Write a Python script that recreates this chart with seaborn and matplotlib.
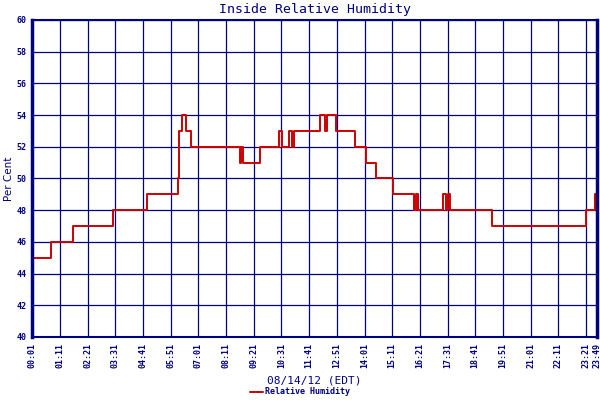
import numpy as np
import pandas as pd
import matplotlib
matplotlib.use("Agg")
import matplotlib.pyplot as plt
import seaborn as sns

# step change times (EDT) and the humidity value held from that time on
times = ["00:01", "00:48", "01:43", "03:25", "04:50", "06:09", "06:11", "06:13",
         "06:19", "06:30", "06:41", "08:46", "08:49", "08:53", "09:36", "10:24",
         "10:32", "10:49", "10:58", "11:02", "12:08", "12:21", "12:25", "12:50",
         "13:36", "14:04", "14:31", "15:14", "16:07", "16:12", "16:17", "17:20",
         "17:28", "17:33", "17:38", "19:23", "23:21", "23:45", "23:49"]
humidity = [45, 46, 47, 48, 49, 50, 52, 53,
            54, 53, 52, 51, 52, 51, 52, 53,
            52, 53, 52, 53, 54, 53, 54, 53,
            52, 51, 50, 49, 48, 49, 48, 49,
            48, 49, 48, 47, 48, 49, 49]

tick_labels = ["00:01", "01:11", "02:21", "03:31", "04:41", "05:51", "07:01",
               "08:11", "09:21", "10:31", "11:41", "12:51", "14:01", "15:11",
               "16:21", "17:31", "18:41", "19:51", "21:01", "22:11", "23:21",
               "23:49"]


def to_min(s):
    h, m = s.split(":")
    return int(h) * 60 + int(m)


df = pd.DataFrame({"minute": [to_min(t) for t in times], "rh": humidity})
navy = "#000080"

sns.set_style("white")
fig = plt.figure(figsize=(6, 4), dpi=100)
ax = fig.add_axes([0.054, 0.1575, 0.941, 0.7925])

sns.lineplot(data=df, x="minute", y="rh", drawstyle="steps-post",
             color="#cc0000", linewidth=1.4, label="Relative Humidity", ax=ax,
             legend=False)

ticks = [to_min(t) for t in tick_labels]
ax.set_xlim(ticks[0], ticks[-1])
ax.set_ylim(40, 60)
ax.set_xticks(ticks)
ax.set_xticklabels(tick_labels, rotation=90, fontsize=6,
                   family="DejaVu Sans Mono", fontweight="bold", color=navy)
ax.set_yticks(np.arange(40, 61, 2))
ax.set_yticklabels([str(v) for v in range(40, 61, 2)], fontsize=6,
                   family="DejaVu Sans Mono", fontweight="bold", color=navy)
ax.tick_params(length=0, pad=4)
ax.grid(True, color=navy, linewidth=0.9)
ax.set_axisbelow(True)
for side, w in [("left", 2.5), ("right", 2.5), ("top", 1.5), ("bottom", 1.5)]:
    ax.spines[side].set_color(navy)
    ax.spines[side].set_linewidth(w)

ax.set_title("Inside Relative Humidity", fontsize=9.5, color=navy,
             family="DejaVu Sans Mono", pad=5)
ax.set_xlabel("08/14/12 (EDT)", fontsize=8, color=navy,
              family="DejaVu Sans Mono", labelpad=6)
ax.set_ylabel("Per Cent", fontsize=7.5, color=navy)
ax.yaxis.set_label_coords(-0.033, 0.5)

fig.legend(loc="lower center", bbox_to_anchor=(0.5, -0.01), frameon=False,
           handlelength=1.6, handletextpad=0.3,
           prop={"family": "DejaVu Sans Mono", "weight": "bold", "size": 6})
for txt in fig.legends[0].get_texts():
    txt.set_color(navy)

fig.savefig("out.png", dpi=100)
